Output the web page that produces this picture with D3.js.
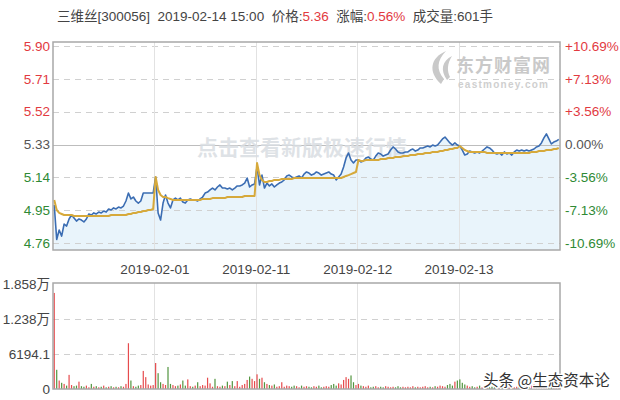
<!DOCTYPE html>
<html><head><meta charset="utf-8">
<script src="https://cdn.jsdelivr.net/npm/d3@7"></script>
<style>html,body{margin:0;padding:0;background:#fff;}svg{display:block;font-family:"Liberation Sans",Arial,sans-serif;}</style>
</head><body>
<svg id="chart" width="620" height="400"></svg>
<script>
// ---- data ----
const dayLabels = ["2019-02-01", "2019-02-11", "2019-02-12", "2019-02-13"];
const priceTicks = [5.90, 5.71, 5.52, 5.33, 5.14, 4.95, 4.76];
const priceTickLabels = ["5.90", "5.71", "5.52", "5.33", "5.14", "4.95", "4.76"];
const pctTickLabels = ["+10.69%", "+7.13%", "+3.56%", "0.00%", "-3.56%", "-7.13%", "-10.69%"];
const volTicks = [18580, 12388, 6194.1, 0];
const volTickLabels = ["1.858万", "1.238万", "6194.1", "0"];
const prevClose = 5.33;

const priceDay1 = [4.98,4.78,4.835,4.80,4.87,4.858,4.899,4.922,4.905,4.887,4.899,4.893,4.882,4.899,4.928,4.922,4.934,4.928,4.939,4.934,4.945,4.939,4.957,4.951,4.963,4.957,4.968,4.963,4.974,5.003,5.049,5.015,5.026,5.003,4.991,5.003,5.049,5.049,5.049,5.049,5.049];
const priceDay2 = [5.142,4.934,4.893,4.991,5.038,4.991,4.963,5.009,5.020,5.009,5.020,4.997,4.991,5.009,5.015,5.009,5.009,5.003,5.015,5.026,5.049,5.055,5.067,5.078,5.067,5.084,5.096,5.078,5.078,5.073,5.078,5.067,5.078,5.090,5.090,5.096,5.107,5.136,5.084,5.096,5.102];
const priceDay3 = [5.200,5.096,5.153,5.078,5.107,5.090,5.102,5.084,5.096,5.107,5.113,5.125,5.148,5.153,5.142,5.136,5.142,5.148,5.136,5.159,5.171,5.165,5.153,5.159,5.171,5.165,5.153,5.159,5.165,5.171,5.159,5.153,5.125,5.142,5.159,5.200,5.252,5.281,5.240,5.223,5.240];
const priceDay4 = [5.240,5.229,5.235,5.252,5.258,5.246,5.240,5.263,5.281,5.275,5.263,5.269,5.275,5.298,5.316,5.304,5.287,5.281,5.281,5.287,5.287,5.298,5.304,5.292,5.298,5.310,5.310,5.316,5.321,5.316,5.327,5.321,5.327,5.344,5.362,5.373,5.356,5.339,5.327,5.339,5.327];
const priceDay5 = [5.321,5.298,5.269,5.275,5.292,5.287,5.281,5.287,5.281,5.292,5.304,5.316,5.310,5.298,5.281,5.275,5.281,5.269,5.287,5.275,5.281,5.269,5.287,5.298,5.292,5.298,5.292,5.298,5.292,5.298,5.304,5.316,5.321,5.339,5.368,5.391,5.362,5.333,5.344,5.350,5.360];

const avgDay1 = [5.009,4.951,4.934,4.928,4.922,4.922,4.922,4.922,4.916,4.916,4.916,4.916,4.916,4.916,4.916,4.916,4.916,4.916,4.916,4.916,4.916,4.916,4.916,4.922,4.922,4.922,4.922,4.922,4.922,4.922,4.928,4.928,4.934,4.934,4.939,4.939,4.945,4.945,4.951,4.951,4.957];
const avgDay2 = [5.142,5.067,5.038,5.026,5.026,5.020,5.015,5.009,5.009,5.009,5.009,5.009,5.009,5.009,5.009,5.009,5.009,5.009,5.009,5.015,5.015,5.015,5.015,5.020,5.020,5.020,5.020,5.020,5.020,5.026,5.026,5.026,5.026,5.026,5.026,5.026,5.032,5.032,5.032,5.032,5.032];
const avgDay3 = [5.223,5.153,5.125,5.113,5.113,5.119,5.119,5.125,5.125,5.125,5.130,5.130,5.130,5.130,5.130,5.136,5.136,5.136,5.136,5.136,5.136,5.136,5.136,5.136,5.136,5.136,5.136,5.136,5.136,5.136,5.136,5.136,5.136,5.136,5.136,5.142,5.148,5.153,5.159,5.165,5.171];
const avgDay4 = [5.240,5.235,5.235,5.240,5.240,5.240,5.240,5.240,5.240,5.246,5.246,5.246,5.252,5.252,5.252,5.258,5.258,5.258,5.263,5.263,5.263,5.269,5.269,5.269,5.275,5.275,5.275,5.281,5.281,5.281,5.287,5.287,5.287,5.292,5.292,5.298,5.298,5.304,5.304,5.310,5.310];
const avgDay5 = [5.321,5.310,5.298,5.292,5.287,5.287,5.287,5.287,5.287,5.287,5.287,5.281,5.281,5.281,5.281,5.281,5.281,5.281,5.281,5.281,5.281,5.281,5.281,5.281,5.281,5.281,5.281,5.281,5.281,5.287,5.287,5.287,5.292,5.292,5.292,5.298,5.298,5.298,5.304,5.304,5.310];

const volDay1 = [17000,3400,1500,1100,900,600,2500,700,500,600,1300,500,400,600,300,900,400,500,300,400,600,300,400,500,300,400,300,500,400,900,8100,1500,500,400,600,700,3200,2100,800,600,700];
const volDay2 = [4600,2800,1200,900,700,3900,900,700,500,600,800,1500,600,1700,500,400,600,1200,500,700,600,2000,1000,400,1800,500,400,600,500,1300,700,1400,500,1400,400,700,900,1600,2200,1800,1400];
const volDay3 = [2600,1800,2000,1200,900,700,600,800,400,500,1200,400,600,500,400,600,500,300,600,400,500,400,300,500,400,600,300,400,500,400,700,900,600,1000,800,1600,2100,1800,2400,1200,700];
const volDay4 = [900,600,500,400,600,300,400,500,300,400,300,500,400,300,400,300,500,300,400,300,400,300,500,300,400,300,400,500,300,400,300,500,400,600,500,400,700,900,600,1300,1500];
const volDay5 = [1700,1100,800,600,400,500,300,400,600,300,500,400,300,400,300,500,300,400,300,400,300,500,300,400,600,300,400,500,300,600,800,500,900,700,600,500,400,500,300,400,600];

// ---- build ----
const prices = [].concat(priceDay1, priceDay2, priceDay3, priceDay4, priceDay5);
const avgs = [].concat(avgDay1, avgDay2, avgDay3, avgDay4, avgDay5);
const vols = [].concat(volDay1, volDay2, volDay3, volDay4, volDay5);
const N = prices.length;
const perDay = priceDay1.length;

const svg = d3.select("#chart");
const L = 53, R = 560, PT = 42, PB = 250, VT = 283, VB = 389;
const RED = "#e23a3f", GREEN = "#2f8a35", GRAY = "#555";

const x = d3.scaleLinear().domain([-0.5, N - 0.5]).range([L, R]);
const y = d3.scaleLinear().domain([4.76, 5.90]).range([243, 46]);
const yv = d3.scaleLinear().domain([0, 18580]).range([VB, VT + 1]);

const boundaries = [1, 2, 3, 4].map(d => d * perDay - 0.5);

// area fill
svg.append("path").datum(prices)
  .attr("d", d3.area().x((d, i) => x(i)).y0(PB).y1(d => y(d)))
  .attr("fill", "#e9f4fb");

// gridlines price
svg.append("g").selectAll("line").data(priceTicks).join("line")
  .attr("x1", L).attr("x2", R)
  .attr("y1", d => Math.round(y(d)) + 0.5).attr("y2", d => Math.round(y(d)) + 0.5)
  .attr("stroke", d => d === prevClose ? "#bdbdbd" : "#d0d0d0")
  .attr("stroke-width", d => d === prevClose ? 1.2 : 1)
  .attr("stroke-dasharray", d => d === prevClose ? null : "6,5");
svg.append("g").selectAll("line").data(boundaries).join("line")
  .attr("x1", d => Math.round(x(d)) + 0.5).attr("x2", d => Math.round(x(d)) + 0.5)
  .attr("y1", PT).attr("y2", PB).attr("stroke", "#e2e2e2");

// watermark
svg.append("text").attr("x", 302).attr("y", 155).attr("text-anchor", "middle")
  .attr("font-family", "Noto Sans CJK SC").attr("font-weight", "bold").attr("font-size", 21)
  .attr("fill", "#d9dde2").attr("fill-opacity", 0.85).text("点击查看新版极速行情");

// east money logo
const logo = svg.append("g").attr("fill", "#c9c9c9");
logo.append("path").attr("d", "M441 84 C428 72 430 58 446 51 C437 60 436 70 444 79 Z");
logo.append("path").attr("d", "M447 80 C440 70 442 61 452 56 C447 64 447 71 450 77 Z");
logo.append("text").attr("x", 456).attr("y", 72).attr("font-family", "Noto Sans CJK SC")
  .attr("font-weight", "bold").attr("font-size", 18).attr("textLength", 94).text("东方财富网");
logo.append("text").attr("x", 458).attr("y", 88).attr("font-size", 10).attr("font-weight", "bold")
  .attr("textLength", 90).attr("fill", "#cfcfcf").text("eastmoney.com");

// lines
svg.append("path").datum(prices)
  .attr("d", d3.line().x((d, i) => x(i)).y(d => y(d)))
  .attr("fill", "none").attr("stroke", "#3b6db3").attr("stroke-width", 1.6).attr("stroke-linejoin", "round");
svg.append("path").datum(avgs)
  .attr("d", d3.line().x((d, i) => x(i)).y(d => y(d)))
  .attr("fill", "none").attr("stroke", "#d6a93b").attr("stroke-width", 2).attr("stroke-linejoin", "round");

// price box
svg.append("rect").attr("x", L).attr("y", PT).attr("width", R - L).attr("height", PB - PT)
  .attr("fill", "none").attr("stroke", "#a8a8a8").attr("stroke-width", 1.5);

// axes
const colorFor = v => v > prevClose + 1e-9 ? RED : (v < prevClose - 1e-9 ? GREEN : GRAY);
const ax = svg.append("g").attr("transform", `translate(${L - 3},0)`)
  .call(d3.axisLeft(y).tickValues(priceTicks).tickSize(0).tickPadding(0)
    .tickFormat((d, i) => priceTickLabels[i]));
ax.select(".domain").remove();
ax.selectAll("text").attr("font-size", 13.5).attr("fill", d => colorFor(d))
  .attr("font-family", "Liberation Sans, Arial, sans-serif");

const axr = svg.append("g").attr("transform", `translate(${R + 5},0)`)
  .call(d3.axisRight(y).tickValues(priceTicks).tickSize(0).tickPadding(0)
    .tickFormat((d, i) => pctTickLabels[i]));
axr.select(".domain").remove();
axr.selectAll("text").attr("font-size", 13.5).attr("fill", d => colorFor(d))
  .attr("font-family", "Liberation Sans, Arial, sans-serif");

// date labels
const xd = svg.append("g").attr("transform", `translate(0,${PB + 2})`)
  .call(d3.axisBottom(x).tickValues(boundaries).tickSize(0).tickPadding(12)
    .tickFormat((d, i) => dayLabels[i]));
xd.select(".domain").remove();
xd.selectAll("text").attr("font-size", 13.5).attr("fill", "#444")
  .attr("font-family", "Liberation Sans, Arial, sans-serif");

// volume panel gridlines
svg.append("g").selectAll("line").data(volTicks.filter(d => d > 0 && d < 18000)).join("line")
  .attr("x1", L).attr("x2", R)
  .attr("y1", d => Math.round(yv(d)) + 0.5).attr("y2", d => Math.round(yv(d)) + 0.5)
  .attr("stroke", "#d0d0d0").attr("stroke-dasharray", "6,5");
svg.append("g").selectAll("line").data(boundaries).join("line")
  .attr("x1", d => Math.round(x(d)) + 0.5).attr("x2", d => Math.round(x(d)) + 0.5)
  .attr("y1", VT).attr("y2", VB).attr("stroke", "#e2e2e2");

// volume bars
svg.append("g").selectAll("rect").data(vols).join("rect")
  .attr("x", (d, i) => x(i) - 0.6).attr("width", 1.2)
  .attr("y", d => yv(d)).attr("height", d => VB - yv(d))
  .attr("fill", (d, i) => (i === 0 || prices[i] >= prices[i - 1]) ? "#e64b4d" : "#52953f");

svg.append("rect").attr("x", L).attr("y", VT).attr("width", R - L).attr("height", VB - VT)
  .attr("fill", "none").attr("stroke", "#a8a8a8").attr("stroke-width", 1.5);

const axv = svg.append("g").attr("transform", `translate(${L - 3},0)`)
  .call(d3.axisLeft(yv).tickValues(volTicks).tickSize(0).tickPadding(0)
    .tickFormat((d, i) => volTickLabels[i]));
axv.select(".domain").remove();
axv.selectAll("text").attr("font-size", 13.5).attr("fill", "#444")
  .attr("font-family", "Liberation Sans, Noto Sans CJK SC, sans-serif");

// header
const hdr = svg.append("text").attr("x", 57).attr("y", 21).attr("font-size", 13.5)
  .attr("font-family", "Liberation Sans, Noto Sans CJK SC, sans-serif").attr("fill", "#444");
hdr.append("tspan").text("三维丝[300056]  2019-02-14 15:00  价格:");
hdr.append("tspan").attr("fill", RED).text("5.36");
hdr.append("tspan").text("  涨幅:");
hdr.append("tspan").attr("fill", RED).text("0.56%");
hdr.append("tspan").text("  成交量:601手");
hdr.attr("xml:space", "preserve").style("white-space", "pre");

// bottom-right watermark
svg.append("text").attr("x", 483).attr("y", 386).attr("font-size", 15.5)
  .attr("font-family", "Noto Sans CJK SC").attr("fill", "#333")
  .attr("stroke", "#fff").attr("stroke-width", 2.5).attr("paint-order", "stroke")
  .text("头条 @生态资本论");
</script>
</body></html>
